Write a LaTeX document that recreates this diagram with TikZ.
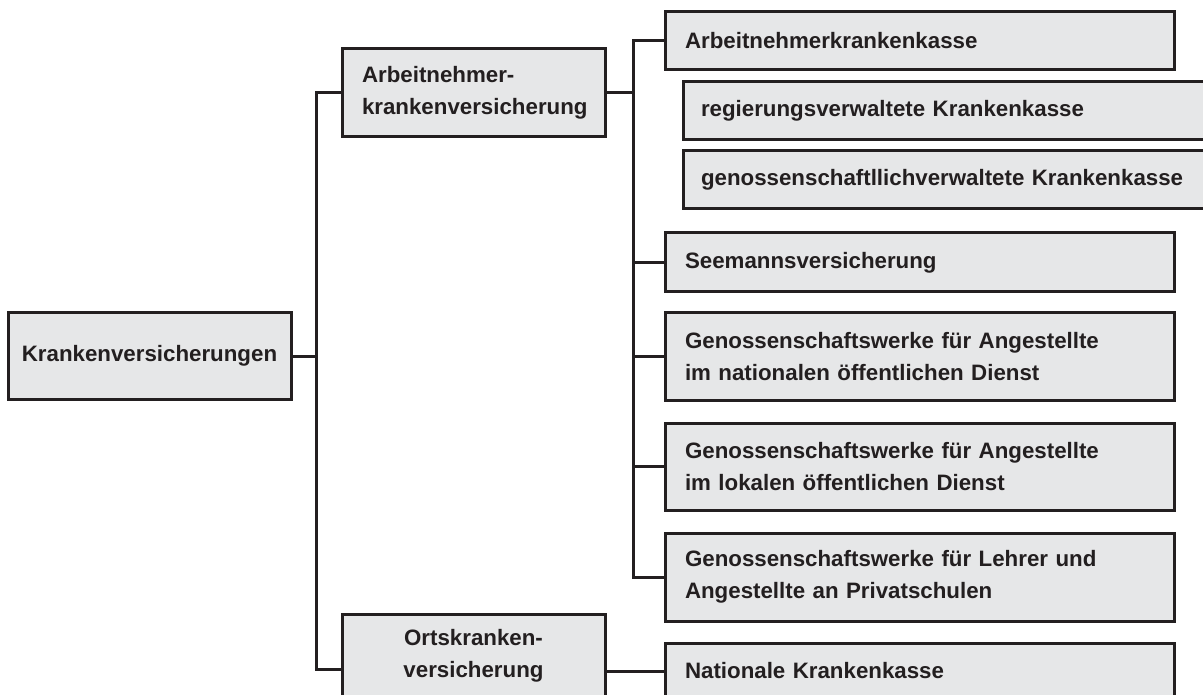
\documentclass[tikz,border=0pt]{standalone}
\usepackage{fontspec}
\setmainfont{Liberation Sans}
\definecolor{ink}{HTML}{231F20}
\definecolor{boxfill}{HTML}{E6E7E8}
\begin{document}
\hyphenpenalty=10000
\exhyphenpenalty=10000
\begin{tikzpicture}[x=1pt,y=-1pt,
  box/.style={draw=ink, fill=boxfill, line width=3pt, text=ink,
    font=\fontsize{22.3}{32}\selectfont\bfseries,
    inner ysep=0pt, outer sep=0pt, anchor=north west},
  cbox/.style={box, align=center, inner xsep=0pt},
  lbox/.style={box, align=left, inner xsep=20pt},
  sbox/.style={box, align=left, inner xsep=18pt},
  conn/.style={draw=ink, line width=3pt}]
\useasboundingbox (0,0) rectangle (1203,695);
\clip (0,0) rectangle (1203,695);
% level 1
\node[cbox, minimum width=283pt, minimum height=86pt] (root) at (8,313) {Krankenversicherungen};
% level 2
\node[lbox, text width=223pt, minimum height=88pt] (ar) at (342,49) {Arbeitnehmer-\\krankenversicherung};
\node[cbox, minimum width=263pt, minimum height=84pt] (ort) at (342,614) {Ortskranken-\\versicherung};
% level 3
\node[lbox, text width=469pt, minimum height=58pt] (ak) at (665,12) {Arbeitnehmerkrankenkasse};
\node[sbox, text width=496pt, minimum height=58pt] (reg) at (683,82) {regierungsverwaltete Krankenkasse};
\node[sbox, text width=496pt, minimum height=58pt] (gen) at (683,151) {genossenschaftllichverwaltete Krankenkasse};
\node[lbox, text width=469pt, minimum height=59pt] (see) at (665,233) {Seemannsversicherung};
\node[lbox, text width=469pt, minimum height=87pt] (nat) at (665,313) {Genossenschaftswerke für Angestellte\\im nationalen öffentlichen Dienst};
\node[lbox, text width=469pt, minimum height=87pt] (lok) at (665,423) {Genossenschaftswerke für Angestellte\\im lokalen öffentlichen Dienst};
\node[lbox, text width=469pt, minimum height=88pt] (leh) at (665,533) {Genossenschaftswerke für Lehrer und\\Angestellte an Privatschulen};
\node[lbox, text width=469pt, minimum height=56pt] (nk) at (665,643) {Nationale Krankenkasse};
% connectors
\coordinate (j1) at (316,356);
\coordinate (j2) at (633,93);
\coordinate (ortin) at (342,669);
\draw[conn] (root.east) -- (j1);
\draw[conn] (ar.west) -| (j1);
\draw[conn] (ortin) -| (j1);
\draw[conn] (ar.east) -- (j2);
\draw[conn] (ak.west) -| (j2);
\draw[conn] (see.west) -| (j2);
\draw[conn] (nat.west) -| (j2);
\draw[conn] (lok.west) -| (j2);
\draw[conn] (leh.west) -| (j2);
\draw[conn] (ort.east |- nk.west) -- (nk.west);
\end{tikzpicture}
\end{document}
